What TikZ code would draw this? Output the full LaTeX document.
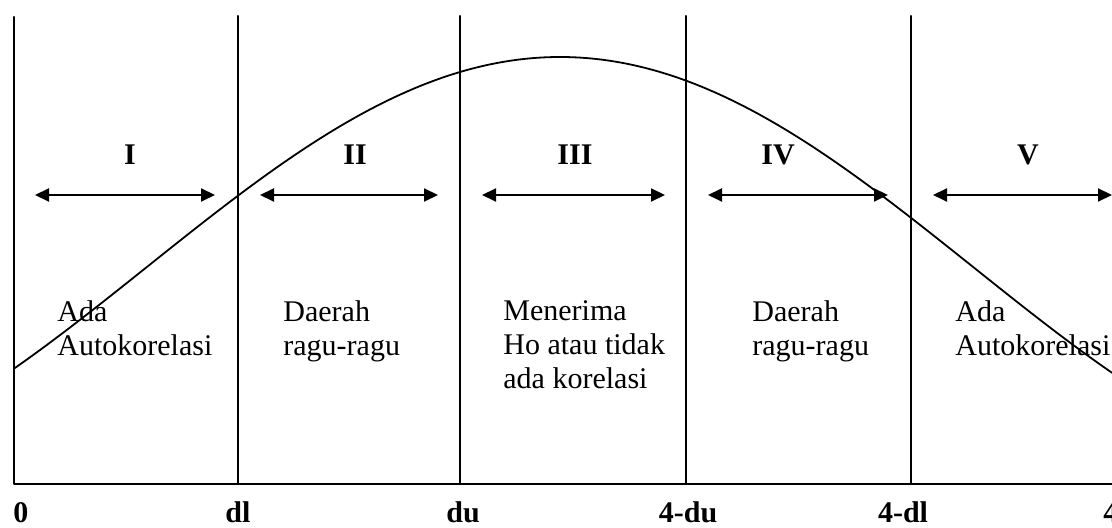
\documentclass[tikz,border=0pt]{standalone}
\usepackage{fontspec}
\setmainfont{Liberation Serif}
\usepackage{tikz}
\usetikzlibrary{arrows.meta}
\tikzset{
    every picture/.style={line cap=round,line join=round},
    divline/.style={draw=black,line width=1pt},
    rangearrow/.style={{Triangle[length=7pt,width=6.5pt]}-{Triangle[length=7pt,width=6.5pt]},
      draw=black,line width=1pt},
    zonetext/.style={font=\fontsize{15}{17}\selectfont,align=left,anchor=north west,
      inner sep=0pt},
    zonenum/.style={font=\fontsize{15}{17}\selectfont\bfseries,anchor=base,inner sep=0pt},
    ticklabel/.style={font=\fontsize{15}{17}\selectfont\bfseries,anchor=base,inner sep=0pt}
}

\begin{document}
\begin{tikzpicture}[x=0.5pt,y=-0.5pt]
  \useasboundingbox (0,0) rectangle (1112,528);
  % axis and dividing lines
  \coordinate (zero-top) at (14,17);
  \coordinate (zero) at (14,484);
  \coordinate (four) at (1112,484);
  \draw[divline] (zero-top) -- (zero) -- (four);
  \foreach \x/\n in {238/dl,460/du,686/fdu,911/fdl} {
    \coordinate (\n-top) at (\x,16);
    \coordinate (\n) at (\x,484);
    \draw[divline] (\n-top) -- (\n);
  }
  % the curve
  \draw[line width=0.9pt] plot[domain=14:1112,samples=100,smooth]
    ({\x},{484-217-210*cos(deg((\x-560)/263))});
  % ranges
  \foreach \n/\a/\b/\x/\t in {one/35/215/130/I,two/260/438/355/II,three/482/665/575/III,
                              fourr/708/888/778/IV,five/933/1112/1028/V} {
    \coordinate (\n-l) at (\a,195);
    \coordinate (\n-r) at (\b,195);
    \draw[rangearrow] (\n-l) -- (\n-r);
    \node[zonenum] (\n-num) at (\x,165) {\t};
  }
  \node[zonetext] (t1) at (57,300) {Ada\\Autokorelasi};
  \node[zonetext] (t2) at (283,300) {Daerah\\ragu-ragu};
  \node[zonetext] (t3) at (503,300) {Menerima\\Ho atau tidak\\ada korelasi};
  \node[zonetext] (t4) at (752,300) {Daerah\\ragu-ragu};
  \node[zonetext] (t5) at (955,300) {Ada\\Autokorelasi};
  % tick labels
  \node[ticklabel,anchor=base west] (l0) at (13,522) {0};
  \node[ticklabel] (ldl) at (238,522) {dl};
  \node[ticklabel] (ldu) at (463,522) {du};
  \node[ticklabel] (lfdu) at (688,522) {4-du};
  \node[ticklabel] (lfdl) at (903,522) {4-dl};
  \node[ticklabel,anchor=base west] (l4) at (1103,522) {4};
\end{tikzpicture}
\end{document}
